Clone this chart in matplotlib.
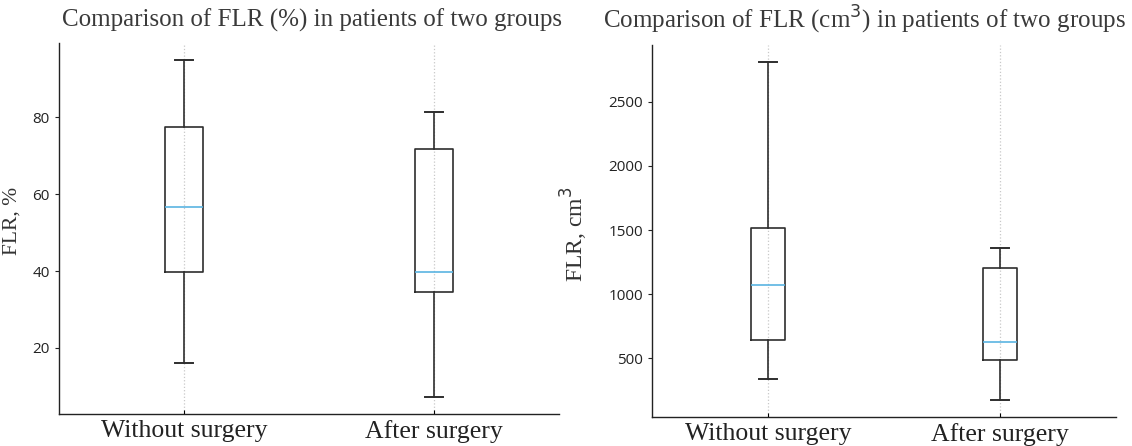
import matplotlib
matplotlib.use("Agg")
import matplotlib.pyplot as plt

# Data: whisker low, Q1, median, Q3, whisker high
categories = ["Without surgery", "After surgery"]
pct_low = [16.2, 7.2]
pct_q1 = [39.8, 34.5]
pct_med = [56.6, 39.9]
pct_q3 = [77.4, 71.7]
pct_high = [95.0, 81.3]

vol_low = [337, 176]
vol_q1 = [642, 487]
vol_med = [1075, 630]
vol_q3 = [1516, 1205]
vol_high = [2810, 1363]

SERIF = ["Liberation Serif", "DejaVu Serif"]
SANS = ["Open Sans", "DejaVu Sans"]
MED_COLOR = "#5ab4e2"
LINE_COLOR = "#2e2e2e"


def stats(low, q1, med, q3, high, labels):
    out = []
    for i in range(len(labels)):
        out.append(dict(label=labels[i], whislo=low[i], q1=q1[i], med=med[i],
                        q3=q3[i], whishi=high[i], fliers=[]))
    return out


fig = plt.figure(figsize=(11.32, 4.46), dpi=100)
ax1 = fig.add_axes([59 / 1132, 1 - 414 / 446, 500 / 1132, 371 / 446])
ax2 = fig.add_axes([652 / 1132, 1 - 417 / 446, 464 / 1132, 372 / 446])

panels = [
    (ax1, stats(pct_low, pct_q1, pct_med, pct_q3, pct_high, categories),
     "Comparison of FLR (%) in patients of two groups", "FLR, %", 15.5, 0.505, (-0.074, 0.52)),
    (ax2, stats(vol_low, vol_q1, vol_med, vol_q3, vol_high, categories),
     "Comparison of FLR (cm$^3$) in patients of two groups", "FLR, cm$^3$", 17, 0.458, (-0.133, 0.49)),
]

for ax, st, title, ylabel, yfs, tx, lc in panels:
    ax.bxp(st, showfliers=False,
           boxprops=dict(color=LINE_COLOR, linewidth=1.2),
           whiskerprops=dict(color=LINE_COLOR, linewidth=1.2),
           capprops=dict(color=LINE_COLOR, linewidth=1.4),
           medianprops=dict(color=MED_COLOR, linewidth=1.2))
    ax.set_title(title, fontsize=18, family=SERIF, color="#3a3a3a", pad=12, x=tx)
    ax.set_ylabel(ylabel, fontsize=yfs, family=SERIF, color="#333333")
    ax.yaxis.set_label_coords(*lc)
    ax.xaxis.grid(True, linestyle=":", color="#c8c8c8", linewidth=0.9)
    ax.set_axisbelow(True)
    for s in ["top", "right"]:
        ax.spines[s].set_visible(False)
    for s in ["left", "bottom"]:
        ax.spines[s].set_color("#222222")
        ax.spines[s].set_linewidth(1.0)
    ax.tick_params(axis="y", length=3, width=0.8, labelsize=11, colors="#222222")
    ax.tick_params(axis="x", length=3, width=0.8, direction="in", pad=4)
    for lab in ax.get_xticklabels():
        lab.set_family(SERIF)
        lab.set_fontsize(18.5)
        lab.set_color("#222222")

ax1.set_yticks([20, 40, 60, 80])
ax2.set_yticks([500, 1000, 1500, 2000, 2500])
for ax in (ax1, ax2):
    for lab in ax.get_yticklabels():
        lab.set_family(SANS)

fig.savefig("out.png", dpi=100)
